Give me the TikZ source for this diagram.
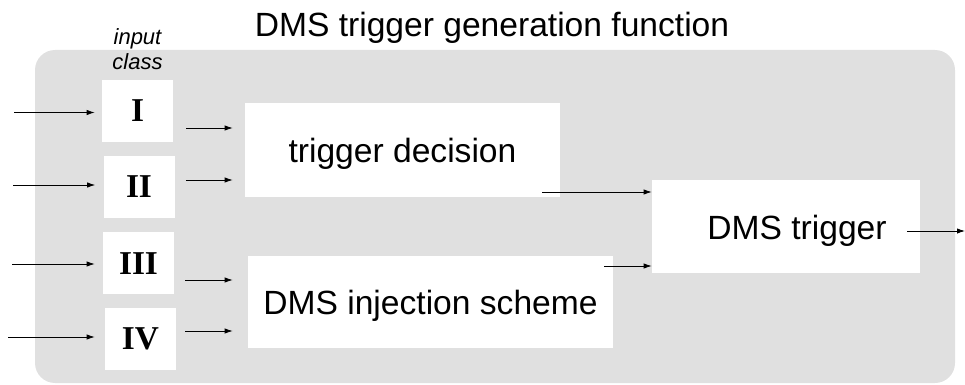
\documentclass[tikz,border=0pt]{standalone}
\usepackage{fontspec}
\setmainfont{Liberation Sans}
\newfontfamily\numfont{Liberation Serif}
\usepackage{tikz}
\usetikzlibrary{arrows.meta, positioning, calc}
\definecolor{PanelGray}{HTML}{E0E0E0}
\definecolor{BoxWhite}{HTML}{FFFFFF}
\definecolor{LineBlack}{HTML}{000000}
\tikzset{
    % Node styles - white, no border
    classbox/.style={
        rectangle,
        draw=none,
        fill=BoxWhite,
        inner sep=0pt,
        minimum width=53.25pt,
        minimum height=46.5pt,
        text height=16.5pt,
        text depth=0pt,
        text centered,
        font=\numfont\bfseries\fontsize{25}{30}\selectfont
    },
    blockbox/.style={
        rectangle,
        draw=none,
        fill=BoxWhite,
        inner sep=0pt,
        minimum height=70pt,
        text height=18.75pt,
        text depth=0pt,
        text centered,
        font=\fontsize{25.2}{30}\selectfont
    },
    % Background panel
    panel/.style={
        fill=PanelGray,
        rounded corners=15pt
    },
    % Arrow styles
    sigarrow/.style={
        -{Latex[length=6pt,width=4pt]},
        line width=0.6pt,
        LineBlack
    }
}
\begin{document}
\begin{tikzpicture}[x=0.75pt, y=-0.75pt]
    \useasboundingbox (0,0) rectangle (965,385);
    \path[panel] (35,50) rectangle (955,383);

    \node[anchor=base, font=\fontsize{25.2}{30}\selectfont] (title) at (492,37) {DMS trigger generation function};
    \node[align=center, inner sep=0pt, font=\itshape\fontsize{16.5}{18.75}\selectfont] (inlabel) at (137.5,48.7) {input\\class};

    \node[classbox] (clsI) at (137.5,111) {I};
    \node[classbox] (clsII) at (139,187) {II};
    \node[classbox] (clsIII) at (138.5,263) {III};
    \node[classbox] (clsIV) at (140.5,338.5) {IV};

    \node[blockbox, minimum width=236.25pt, minimum height=70.5pt] (trigdec) at (402.5,150) {trigger decision};
    \node[blockbox, minimum width=273.75pt, minimum height=69pt] (injscheme) at (430.5,302) {DMS injection scheme};
    \node[blockbox, minimum width=201pt, minimum height=69.75pt] (dmstrig) at (786,226.5) {\hspace*{16.5pt}DMS trigger};

    \coordinate (inI) at (14,112.5);
    \coordinate (inII) at (13,185);
    \coordinate (inIII) at (12,264);
    \coordinate (inIV) at (8,337);
    \coordinate (out) at (965,231);

    % inputs
    \draw[sigarrow, shorten >=5.25pt] (inI) -- (inI -| clsI.west);
    \draw[sigarrow, shorten >=6pt] (inII) -- (inII -| clsII.west);
    \draw[sigarrow, shorten >=6pt] (inIII) -- (inIII -| clsIII.west);
    \draw[sigarrow, shorten >=7.5pt] (inIV) -- (inIV -| clsIV.west);

    % classes to blocks
    \draw[sigarrow, shorten <=9.75pt, shorten >=9pt] ([yshift=-12.75pt]clsI.east) coordinate (aI) -- (aI -| trigdec.west);
    \draw[sigarrow, shorten <=8.25pt, shorten >=9pt] ([yshift=5.25pt]clsII.east) coordinate (aII) -- (aII -| trigdec.west);
    \draw[sigarrow, shorten <=8.25pt, shorten >=11.25pt] ([yshift=-12.75pt]clsIII.east) coordinate (aIII) -- (aIII -| injscheme.west);
    \draw[sigarrow, shorten <=6.75pt, shorten >=11.25pt] ([yshift=5.625pt]clsIV.east) coordinate (aIV) -- (aIV -| injscheme.west);

    % blocks to DMS trigger
    \draw[sigarrow] ([shift={(-13.5pt,-31.5pt)}]trigdec.east) coordinate (bT) -- (bT -| dmstrig.west);
    \draw[sigarrow] ([shift={(-6.75pt,27pt)}]injscheme.east) coordinate (bJ) -- (bJ -| dmstrig.west);
    \draw[sigarrow] ([shift={(-9.75pt,-3.375pt)}]dmstrig.east) -- (out);
\end{tikzpicture}
\end{document}
